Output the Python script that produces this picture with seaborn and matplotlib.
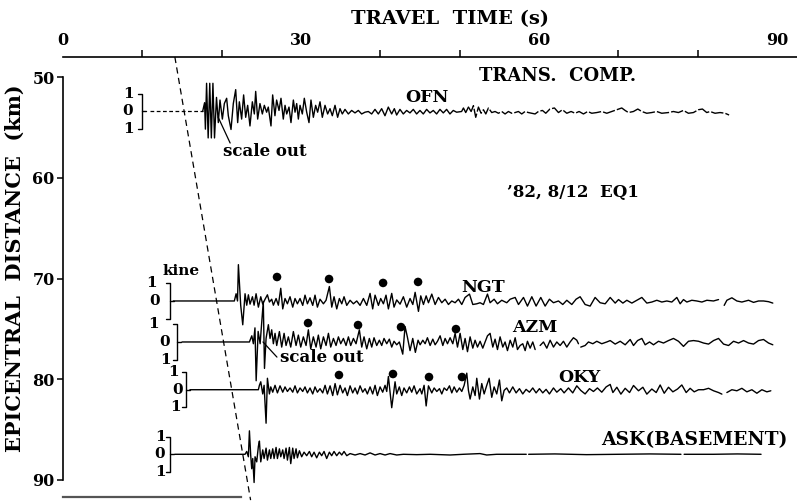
import numpy as np
import pandas as pd
import matplotlib
matplotlib.use("Agg")
import matplotlib.pyplot as plt
import seaborn as sns

nan = np.nan

# ---------------- data (travel time in s, amplitude in kine) ----------------
STATIONS = ["OFN", "NGT", "AZM", "OKY", "ASK"]
DIST_KM = [53.42, 72.23, 76.30, 81.04, 87.45]

OFN_PRE_T = [11.0, 17.6]
OFN_PRE_A = [0.0, 0.0]
OFN_T = [
    17.6, 17.85, 17.95, 18.1, 18.3, 18.5, 18.7, 18.9, 19.1, 19.35,
    19.58, 19.79, 20.09, 20.34, 20.63, 20.84, 21.18, 21.47, 21.77, 22.02,
    22.23, 22.52, 22.77, 23.03, 23.28, 23.57, 23.87, 24.12, 24.29, 24.54,
    24.83, 25.13, 25.38, 25.67, 25.88, 26.22, 26.43, 26.72, 26.93, 27.23,
    27.48, 27.77, 27.99, 28.2, 28.49, 28.74, 29.04, 29.25, 29.46, 29.67,
    29.88, 30.17, 30.42, 30.72, 31.01, 31.26, 31.56, 31.85, 32.1, 32.4,
    32.69, 33.03, 33.36, 33.66, 33.95, 34.29, 34.62, 34.92, 35.21, 35.55,
    35.97, 36.39, 36.81, 37.23, 37.65, 38.07, 38.49, 38.91, 39.33, 39.75,
    40.17, 40.59, 41.01, 41.43, 41.77, 42.06, 42.48, 42.9, 43.32, 43.74,
    44.16, 44.58, 45.0, 45.42, 45.84, 46.26, 46.68, 47.1, 47.52, 47.94,
    48.36, 48.78, 49.2, 49.62, 50.25,
    50.48, 50.77, 51.11, 51.45, 51.74, 52.03, 52.37, 52.71, 53.0, 53.3,
    53.63, 54.05, 54.47, 54.89, 55.31, 55.73, 56.15, 56.57, 56.99, 57.41,
    57.83, 58.25, 58.67, 59.51, 59.93, 60.44, 60.86, 61.38, 61.95, 62.46,
    62.96, 63.51, 64.05, 64.56, 65.06, 65.61, 66.15, 66.66, 67.29, 67.92,
    68.55, 69.18, 69.81, 70.44, 70.86, 71.28, 71.91, 72.46, 72.96, 73.59,
    74.22, 74.85, 75.48, 76.32, 76.95, 77.58, 78.21, 78.84, 79.47, 80.1,
    80.61, 81.15, 81.57, 82.2, 82.83, 83.46, 83.97]
OFN_A = [
    0, 0.5, -1.0, 1.6, -1.5, 1.6, -1.5, 1.6, -1.5, 0.8,
    -0.63, 0.65, -0.43, 0.45, 0.75, -0.24, -1.02, 0.45, 1.24, -0.63,
    0.55, -0.43, 0.94, -0.33, 0.35, -0.82, 0.55, -0.14, 1.14, -0.43,
    0.45, -0.14, 0.35, -0.04, 0.25, -0.82, 0.94, -0.24, 0.65, 0.06,
    0.75, -0.43, 0.35, -0.14, 0.25, -0.63, 0.65, -0.04, 0.45, -0.43,
    0.35, -0.14, 0.75, -0.04, -0.63, 0.65, -0.33, 0.35, -0.04, 0.55,
    -0.33, 0.35, -0.14, 0.16, -0.24, 0.35, -0.33, 0.16, -0.14, 0.12,
    -0.14, 0.06, -0.08, 0.06, -0.14, -0.04, 0, -0.14, 0.12, -0.14,
    0.16, -0.24, 0.25, -0.14, 0.16, -0.2, 0.12, -0.14, 0.06, -0.08,
    0.12, -0.14, 0.06, -0.14, 0.12, -0.08, 0.06, -0.14, 0.12, -0.08,
    0.12, -0.14, 0.06, -0.04, 0,
    0.2, -0.06, 0.25, 0, 0.33, -0.33, 0.25, -0.1, 0.1, -0.14,
    0.2, -0.06, 0, -0.1, 0, -0.14, 0, -0.1, -0.06, 0,
    -0.14, 0, -0.06, -0.14, 0, 0.06, -0.1, 0.14, 0.2, -0.06,
    0.1, -0.1, 0, -0.1, 0, -0.14, 0, -0.1, -0.06, 0,
    -0.1, 0, 0.1, 0.2, 0.06, -0.06, 0, 0.14, 0, -0.1,
    -0.06, 0, -0.1, -0.06, 0, -0.06, 0.06, -0.1, -0.06, 0.1,
    0.14, -0.06, 0, -0.1, -0.06, -0.1, -0.2]

NGT_T = [
    13.9, 21.6, 21.82, 22.0, 22.11, 22.4, 22.66, 22.95, 23.16, 23.37,
    23.58, 23.88, 24.09, 24.34, 24.63, 24.93, 25.18, 25.47, 25.77, 26.02,
    26.31, 26.52, 26.86, 27.15, 27.45, 27.7, 27.99, 28.29, 28.62, 28.96,
    29.25, 29.55, 29.88, 30.22, 30.51, 30.81, 31.14, 31.48, 31.77, 32.07,
    32.4, 32.83, 33.16, 33.58, 33.88, 34.17, 34.51, 34.84, 35.14, 35.43,
    35.77, 36.19, 36.61, 37.03, 37.45, 37.87, 38.29, 38.71, 39.04, 39.34,
    39.76, 40.05, 40.39, 40.72, 41.02, 41.44, 41.73, 42.07, 42.49, 42.91,
    43.33, 43.75, 44.1, 44.39, 44.81, 45.1, 45.44, 45.78, 46.07, 46.49,
    46.91, 47.33, 47.75, 48.17, 48.59, 49.01, 49.43, 49.85, 50.27, 50.69,
    51.24, 51.66, 52.16, 52.58, 53.0, 53.51, 53.84, 54.35, 54.77, 55.31,
    55.94, 56.37, 57.0, 57.42, 58.05, 58.55, 59.1, 59.64, 60.23, 60.78,
    61.32, 61.83, 62.46, 63.0, 63.51, 64.14, 64.68, 65.19, 65.82, 66.45,
    67.08, 67.71, 68.35, 68.98, 69.61, 70.03, 70.58, 71.08, 71.71, 72.34,
    72.97, 73.6, 74.23, 74.86, 75.49, 76.12, 76.75, 77.38, 77.8, 78.22,
    78.64, 79.27, 79.9, 80.54, 81.17, 82.0, 82.64, nan, 83.35, 83.69,
    84.32, 84.95, 85.58, 86.42, 87.05, 87.68, 88.31, 88.94, 89.48]
NGT_A = [
    0, 0, 0.41, 0.0, 2.06, -0.24, -1.35, 0.41, -0.24, 0.35,
    -0.18, 0.24, -0.24, 0.41, -0.35, 0.24, -0.18, 0.1, 0.35, -0.06,
    0.1, -0.24, 0.14, -0.24, 0.72, -0.45, 0.14, -0.16, 0.24, -0.35,
    0.14, -0.16, 0.14, -0.25, 0.33, -0.16, 0.18, -0.25, 0.33, -0.35,
    0.1, -0.16, 0.04, 0.82, -0.35, 0.24, -0.45, 0.14, -0.16, 0.24,
    -0.25, 0.04, -0.16, 0, -0.25, 0.14, -0.25, 0.43, -0.45, 0.33,
    -0.25, 0.14, -0.16, 0.33, -0.45, 0.43, -0.35, 0.06, -0.18, 0.24,
    -0.35, 0.14, -0.2, 0.49, -0.59, 0.29, -0.2, 0.29, -0.1, 0.39,
    -0.2, 0.2, -0.1, 0.1, -0.2, 0, -0.1, 0.1, -0.2, 0.2,
    0.39, -0.2, -0.16, -0.1, -0.2, 0.39, -0.1, 0.1, -0.16, 0.04,
    -0.1, 0.1, 0.2, -0.2, 0.2, -0.29, 0.24, -0.29, 0.2, -0.29,
    0.1, -0.1, 0, -0.2, 0.04, -0.2, 0.1, 0.24, -0.2, -0.29,
    0.2, -0.1, -0.16, 0.2, -0.12, 0.08, -0.12, 0.04, -0.12, 0.04,
    0.2, -0.12, -0.06, 0.04, -0.06, 0, -0.06, 0.2, -0.16, 0.08,
    -0.06, 0.04, 0, -0.06, 0.04, 0, 0.08, nan, -0.25, 0.04,
    0.18, 0, -0.06, 0.04, -0.08, 0, 0, -0.04, -0.12]

AZM_T = [
    15.0, 23.5, 23.8, 24.0, 24.2, 24.35, 24.6, 24.85, 25.25, 25.4,
    25.6, 25.89, 26.1, 26.31, 26.52, 26.73, 26.94, 27.28, 27.57, 27.87,
    28.12, 28.41, 28.71, 29.04, 29.38, 29.67, 29.97, 30.3, 30.64, 30.93,
    31.23, 31.56, 31.9, 32.19, 32.49, 32.83, 33.16, 33.46, 33.75, 34.09,
    34.42, 34.72, 35.01, 35.35, 35.68, 35.98, 36.27, 36.61, 36.94, 37.36,
    37.66, 37.95, 38.29, 38.62, 38.92, 39.21, 39.55, 39.88, 40.18, 40.47,
    40.81, 41.14, 41.44, 41.73, 42.07, 42.4, 42.83, 43.12, 43.41, 43.75,
    44.09, 44.42, 44.76, 45.02, 45.36, 45.65, 45.94, 46.28, 46.62, 46.91,
    47.21, 47.54, 47.88, 48.17, 48.47, 48.8, 49.14, 49.43, 49.73, 50.06,
    50.4, 50.69, 50.99, 51.32, 51.66, 51.95, 52.25, 52.58, 52.92, 53.21,
    53.51, 53.84, 54.18, 54.47, 54.77, 55.1, 55.44, 55.73, 56.03, 56.37,
    56.7, 57.0, 57.29, 57.63, 57.96, 58.26, 58.55, 58.89, 59.22, 59.52,
    nan, 60.15, 60.57, 60.99, 61.41, 61.83, 62.25, 62.67, 63.09, 63.51,
    63.93, 64.35, 64.77, 64.98, nan, 65.27, 65.82, 66.24, 66.79, 67.29,
    67.92, 68.55, 68.98, 69.61, 70.24, 70.87, 71.5, 71.92, 72.43, 72.97,
    73.39, 73.94, 74.44, 75.07, 75.7, 76.33, 76.96, 77.59, 78.22, 78.85,
    79.48, 80.12, 80.75, 81.38, 82.01, 82.64, 83.27, 83.9, 84.53, 85.16,
    85.79, 86.42, 87.05, 87.68, 88.31, 88.94, 89.48]
AZM_A = [
    0, 0, 0.35, -0.1, 0.8, -2.2, 0.6, -0.1, 2.3, -1.5,
    0.2, 0.98, 0.2, 0.69, -0.1, 0.49, -0.2, 0.59, -0.29, 0.49,
    -0.2, 0.29, -0.29, 0.59, -0.2, 0.39, -0.29, 0.29, -0.2, 0.69,
    -0.39, 0.29, -0.29, 0.39, -0.39, 0.29, -0.2, 0.49, -0.29, 0.2,
    -0.2, 0.29, -0.1, 0.2, -0.2, 0.29, -0.2, 0.2, -0.1, 0.69,
    -0.29, 0.29, -0.39, 0.2, -0.29, 0.24, -0.2, 0.1, -0.2, 0.2,
    -0.1, 0.16, -0.29, 0.04, -0.16, 0, -0.69, 0.88, 0.29, -0.49,
    0.2, -0.59, 0.1, -0.16, 0.1, -0.1, 0.24, -0.2, 0.16, -0.16,
    0.04, 0.35, -0.2, 0.2, -0.1, 0.24, -0.1, 0.49, -0.29, 0.49,
    -0.43, 0.2, -0.55, 0.29, -0.35, 0.1, -0.29, 0.04, -0.35, 0,
    0.35, 0.49, -0.29, 0.16, -0.43, 0.29, -0.29, 0, -0.49, 0.1,
    -0.29, 0.24, -0.43, -0.2, -0.1, -0.49, 0.04, -0.35, 0, -0.43,
    nan, -0.2, 0, -0.35, 0.1, -0.29, 0, -0.2, 0.04, -0.29,
    0, 0.24, 0.1, -0.1, nan, -0.29, -0.2, 0, -0.1, 0.04,
    -0.1, 0, 0.08, -0.12, 0.04, -0.16, 0.14, -0.2, 0.08, 0.2,
    -0.16, 0, -0.16, 0.04, -0.06, 0.08, 0.2, 0.04, -0.25, 0.04,
    0.08, 0.04, -0.06, -0.12, 0.08, 0.2, -0.12, -0.2, 0.04, -0.06,
    0.08, -0.06, -0.12, 0.08, 0.14, -0.06, -0.16]

OKY_T = [
    16.0, 24.63, 24.76, 24.93, 25.18, 25.35, 25.6, 25.77, 26.02, 26.19,
    26.44, 26.73, 27.03, 27.36, 27.7, 27.99, 28.29, 28.62, 28.96, 29.25,
    29.55, 29.88, 30.22, 30.51, 30.81, 31.14, 31.48, 31.77, 32.07, 32.4,
    32.74, 33.04, 33.33, 33.67, 34.0, 34.3, 34.59, 34.93, 35.26, 35.56,
    35.85, 36.19, 36.52, 36.82, 37.11, 37.45, 37.78, 38.08, 38.37, 38.71,
    39.04, 39.34, 39.63, 39.97, 40.3, 40.6, 40.81, 41.02, 41.44, 41.86,
    42.07, 42.4, 42.7, 42.99, 43.33, 43.67, 43.96, 44.26, 44.59, 45.01,
    45.23, 45.52, 45.78, 46.07, 46.49, 46.79, 47.12, 47.46, 47.75, 48.05,
    48.38, 48.72, 49.01, 49.31, 49.64, 49.98, 50.27, 50.57, 50.9, 51.11,
    51.32, 51.66, 51.95, 52.16, 52.5, 52.79, 53.09, 53.42, 53.72, 54.05,
    54.35, 54.68, 55.02, 55.31, 55.61, 55.94, 56.28, 56.7, 57.12, 57.54,
    57.96, 58.38, 58.8, 59.22, 59.64, 60.06, 60.48, 60.9, 61.32, 61.83,
    62.25, 62.75, 63.17, 63.72, 64.26, 64.77, 65.27, 65.82, 66.37, 66.87,
    67.37, 67.92, 68.47, 68.98, 69.32, 69.82, 70.33, 70.87, 71.42, 71.92,
    72.55, 73.1, 73.6, 74.23, 74.78, 75.28, 75.79, 76.33, 76.88, 77.47,
    78.01, 78.56, 79.06, 79.57, 80.12, 80.75, 81.38, 82.01, 82.64, 83.06,
    nan, 83.69, 84.32, 84.95, 85.58, 86.21, 86.84, 87.47, 88.1, 88.73,
    89.23]
OKY_A = [
    0, 0, 0.25, 0.45, -0.24, 0.25, -1.9, 0.65, -0.24, 0.16,
    -0.14, 0.25, -0.18, 0.22, -0.14, 0.16, -0.1, 0.1, -0.14, 0.22,
    -0.18, 0.1, -0.1, 0.16, -0.18, 0.1, -0.24, 0.16, -0.14, 0.06,
    -0.18, 0.25, -0.24, 0.22, -0.33, 0.35, -0.29, 0.25, -0.18, 0.1,
    -0.33, 0.22, -0.18, 0.1, -0.24, 0.22, -0.14, 0.06, -0.24, 0.16,
    -0.24, 0.25, -0.33, 0.16, -0.14, 0.25, -0.1, 0.75, -1.02, 0.45,
    -0.24, 0.16, -0.33, 0.1, -0.18, 0.16, -0.14, 0.22, -0.24, 0.06,
    -0.24, 0.25, -0.92, 0.22, -0.18, 0.1, -0.1, 0.06, -0.24, 0.1,
    -0.04, 0.22, -0.18, 0.16, -0.14, 0.1, -0.1, 0.25, 0.94, -0.04,
    -0.53, 0.16, -0.33, 0.65, -0.53, 0.35, -0.24, 0.25, 0.65, -0.43,
    0.16, -0.24, 0.55, -0.63, -0.04, 0.1, -0.18, 0.16, -0.18, 0.06,
    -0.24, 0.02, -0.14, 0.1, -0.18, 0.06, -0.18, 0.02, -0.24, 0.1,
    -0.14, 0.06, -0.18, 0.1, -0.18, 0.22, -0.04, -0.24, 0.06, -0.1,
    0.1, -0.14, 0.16, 0.3, -0.16, 0.14, -0.25, 0.08, -0.16, 0.24,
    -0.06, 0.14, -0.25, 0.04, -0.16, 0.27, -0.2, 0.14, -0.12, 0.04,
    0.27, -0.16, 0.08, -0.12, 0, 0, 0.08, -0.06, -0.16, -0.25,
    nan, -0.16, 0, -0.06, 0.08, -0.12, 0, -0.2, 0, -0.12,
    -0.06]

ASK_T = [
    14.1, 22.95, 23.16, 23.37, 23.5, 23.66, 23.79, 23.92, 24.09, 24.21,
    24.42, 24.63, 24.76, 24.93, 25.18, 25.35, 25.6, 25.77, 26.02, 26.19,
    26.44, 26.61, 26.86, 27.03, 27.28, 27.45, 27.7, 27.87, 28.12, 28.29,
    28.54, 28.71, 28.96, 29.13, 29.38, 29.55, 29.8, 30.09, 30.39, 30.72,
    31.06, 31.35, 31.65, 31.98, 32.32, 32.61, 32.91, 33.24, 33.58, 33.87,
    34.17, 34.5, 34.84, 35.14, 35.43, 35.77, 36.19, 36.82, 37.45, 38.08,
    38.71, 39.34, 39.97, 40.6, 41.23, 42.07, 42.91, 44.59, 46.27, 48.79,
    50.47, 52.57, 53.41, 54.67, 57.6, 58.4, nan, 58.7, 62.0, 66.0,
    70.0, 74.0, 77.9, nan, 78.3, 82.0, 85.0, 88.0]
ASK_A = [
    0, 0, 0.16, -0.14, 1.33, -0.04, -0.82, -0.24, -1.6, -0.14,
    -0.43, 0.45, 0.75, -0.43, 0.25, -0.24, 0.35, -0.33, 0.25, -0.24,
    0.31, -0.24, 0.39, -0.24, 0.31, -0.14, 0.25, -0.24, 0.35, -0.33,
    0.39, -0.53, 0.35, -0.24, 0.31, -0.2, 0.2, -0.14, 0.12, -0.08,
    0.16, -0.14, 0.12, -0.2, 0.12, -0.08, 0.16, -0.24, 0.12, -0.08,
    0.16, -0.08, 0.12, -0.04, 0.16, -0.08, 0.04, -0.04, 0.04, -0.04,
    0.08, -0.04, 0.04, -0.04, 0.04, -0.04, 0, -0.02, 0, -0.04,
    0, 0.04, -0.04, 0, 0, 0, nan, 0, 0.02, -0.02,
    0, 0.02, 0, nan, 0, 0, 0.02, 0]

# marked phases (dots): travel time (s), distance (km)
NGT_DOT_T = [26.98, 33.54, 40.35, 44.76]
NGT_DOT_D = [69.85, 70.05, 70.44, 70.34]
AZM_DOT_T = [30.89, 37.19, 42.61, 49.54]
AZM_DOT_D = [74.42, 74.62, 74.82, 75.02]
OKY_DOT_T = [34.79, 41.60, 46.14, 50.30]
OKY_DOT_D = [79.58, 79.48, 79.78, 79.78]

# first-arrival travel-time line
ARRIVAL_T = [14.1, 23.65]
ARRIVAL_D = [48.0, 92.0]

X_TICKS = [0, 30, 60, 90]
Y_TICKS = [50, 60, 70, 80, 90]

for t_, a_ in [(OFN_T, OFN_A), (NGT_T, NGT_A), (AZM_T, AZM_A), (OKY_T, OKY_A), (ASK_T, ASK_A)]:
    assert len(t_) == len(a_), (len(t_), len(a_))

# ---------------- drawing ----------------
GAIN = 1.75   # km on the page per kine
W, H = 797, 501

sns.set_theme(style="ticks")
plt.rcParams['font.family'] = ['DejaVu Serif']
plt.rcParams['font.weight'] = 'bold'
plt.rcParams['text.color'] = 'black'
plt.rcParams['xtick.color'] = 'black'
plt.rcParams['ytick.color'] = 'black'

fig = plt.figure(figsize=(W / 100, H / 100), dpi=100)
ax = fig.add_axes([63 / W, 4 / H, 734 / W, 440 / H])

LW = 1.0


def trace(t, a, base, ls="-", lw=LW):
    t = np.asarray(t, float)
    a = np.asarray(a, float)
    y = base - GAIN * a
    cut = np.where(np.isnan(t))[0]
    starts = np.r_[0, cut + 1]
    ends = np.r_[cut, len(t)]
    for s, e in zip(starts, ends):
        if e - s < 2:
            continue
        df = pd.DataFrame({"t": t[s:e], "d": y[s:e]})
        sns.lineplot(data=df, x="t", y="d", ax=ax, estimator=None, sort=False,
                     color="black", linewidth=lw, linestyle=ls)


# OFN: dashed lead-in, solid early part, broken late part
trace(OFN_PRE_T, OFN_PRE_A, DIST_KM[0], ls=(0, (3, 2)), lw=0.9)
ofn_t = np.asarray(OFN_T); ofn_a = np.asarray(OFN_A)
k = int(np.searchsorted(ofn_t, 51.0))
trace(ofn_t[:k + 1], ofn_a[:k + 1], DIST_KM[0])
trace(ofn_t[k:], ofn_a[k:], DIST_KM[0], ls=(0, (9, 1.5)), lw=1.0)
trace(NGT_T, NGT_A, DIST_KM[1])
trace(AZM_T, AZM_A, DIST_KM[2])
trace(OKY_T, OKY_A, DIST_KM[3])
trace(ASK_T, ASK_A, DIST_KM[4])

dots = pd.DataFrame({"t": NGT_DOT_T + AZM_DOT_T + OKY_DOT_T,
                     "d": NGT_DOT_D + AZM_DOT_D + OKY_DOT_D})
sns.scatterplot(data=dots, x="t", y="d", ax=ax, color="black", s=38,
                edgecolor="none", zorder=5)

# arrival line
arr = pd.DataFrame({"t": ARRIVAL_T, "d": ARRIVAL_D})
sns.lineplot(data=arr, x="t", y="d", ax=ax, estimator=None, sort=False,
             color="black", linewidth=0.9, linestyle=(0, (5, 3.5)))
ax.lines[-1].set_clip_on(False)

# scale brackets (1 kine); NGT's lower "1" is shared with AZM's upper "1"
BRACKET_X = [9.96, 13.49, 14.37, 15.5, 13.49]
LABEL_X = [(8.2, 8.2, 8.2), (11.2, 11.6, None), (11.35, 12.86, 12.86),
           (13.87, 14.5, 14.12), (12.23, 12.23, 12.23)]
for base, bx, lx in zip(DIST_KM, BRACKET_X, LABEL_X):
    top, bot = base - GAIN, base + GAIN
    ax.plot([bx - 0.45, bx, bx, bx - 0.45], [top, top, bot, bot], color="black", lw=1.0)
    ax.plot([bx, bx + 0.5], [base, base], color="black", lw=1.0)
    for xx, yy, s in zip(lx, (top, base, bot), ("1", "0", "1")):
        if xx is None:
            continue
        ax.text(xx, yy, s, ha="center", va="center", fontsize=11, fontweight="bold")

ax.text((181 - 63) / 7.933, 50 + (271 - 77) / 10.075, "kine", ha="center", va="center",
        fontsize=11, fontweight="bold")

# scale-out leaders
ax.plot([19.55, 21.07], [53.97, 56.55], color="black", lw=0.9)
ax.plot([25.21, 26.97], [76.3, 77.8], color="black", lw=0.9)

# axes styling
ax.set_xlim(0, 92.53)
ax.set_ylim(91.69, 48.01)
ax.set_xlabel("")
ax.set_ylabel("")
ax.xaxis.tick_top()
ax.set_xticks(X_TICKS)
ax.set_xticks([10, 20, 40, 50, 70, 80], minor=True)
ax.set_yticks(Y_TICKS)
ax.tick_params(axis="x", which="major", length=0, pad=6, labelsize=11.5,
               top=True, bottom=False, labeltop=True, labelbottom=False)
ax.tick_params(axis="x", which="minor", length=5, width=1.1, direction="out",
               top=True, bottom=False)
ax.tick_params(axis="y", which="major", length=4, width=1.1, pad=2, labelsize=11.5)
for lab in ax.get_xticklabels() + ax.get_yticklabels():
    lab.set_fontweight("bold")
for side in ("top", "left", "bottom"):
    ax.spines[side].set_color("black")
    ax.spines[side].set_linewidth(1.2)
ax.spines["right"].set_visible(False)
ax.spines["left"].set_bounds(50, 90)
ax.spines["bottom"].set_bounds(0, 22.5)
ax.spines["bottom"].set_color("#555555")
ax.spines["bottom"].set_linewidth(1.6)


def ftxt(x, y, s, size=12, **kw):
    fig.text(x / W, 1 - y / H, s, ha="center", va="center", fontsize=size,
             fontweight="bold", **kw)


ftxt(450, 19, "TRAVEL  TIME (s)", 14)
ftxt(15, 268, "EPICENTRAL  DISTANCE  (km)", 15, rotation=90)
ftxt(558, 76, "TRANS.  COMP.", 13)
ftxt(427, 97, "OFN", 12.5)
ftxt(573, 192, "\u201982, 8/12  EQ1", 12)
ftxt(483, 288, "NGT", 12.5)
ftxt(535, 327, "AZM", 12.5)
ftxt(579, 378, "OKY", 12.5)
ftxt(694, 440, "ASK(BASEMENT)", 13.5)
ftxt(265, 151, "scale out", 12)
ftxt(322, 358, "scale out", 12)

fig.savefig("out.png", dpi=100)
